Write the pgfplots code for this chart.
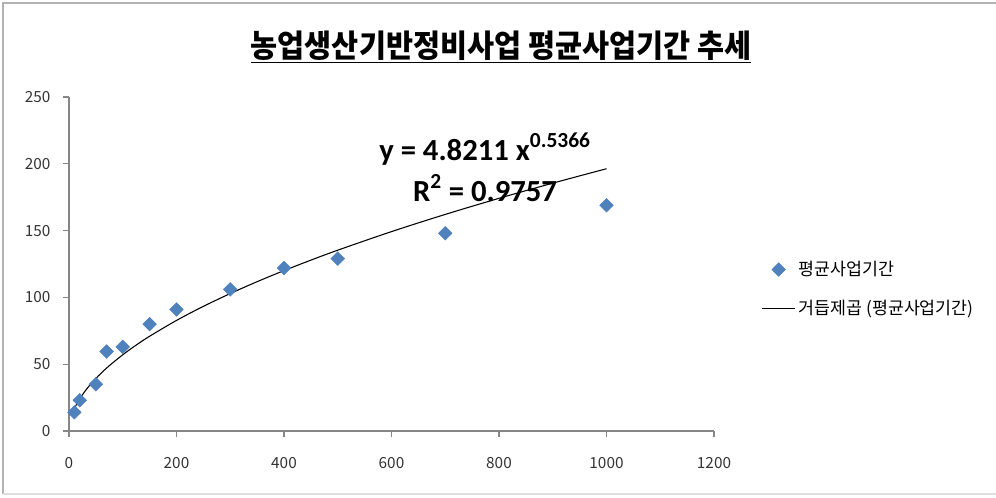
\documentclass[border=0pt]{standalone}
\usepackage{fontspec}
\setmainfont{Noto Sans CJK KR}
\newfontfamily\calfont{Carlito}
\usepackage{graphicx}
\usepackage{pgfplots}
\pgfplotsset{compat=1.18}
\definecolor{xlblue}{HTML}{4F81BD}
\definecolor{axgray}{HTML}{868686}
\pgfplotsset{
  legmark/.style={legend image code/.code={\draw[mark repeat=2, mark phase=2, ##1] plot coordinates {(0cm,0cm) (0.44cm,0cm) (0.88cm,0cm)};}},
  legline/.style={legend image code/.code={\draw[##1] (0cm,0cm) -- (0.88cm,0cm);}},
}
\begin{document}
\begin{tikzpicture}[x=0.75pt,y=0.75pt]
\useasboundingbox (-69,-66) rectangle (927,431);
\draw[gray!60, line width=1.2pt] (-66,-63) -- (-66,428) -- (927,428);
\draw[gray!25, line width=1pt] (-66,-63) -- (927,-63);
\begin{axis}[
  scale only axis, width=483.75pt, height=250.5pt,
  xmin=0, xmax=1200, ymin=0, ymax=250,
  xtick={0,200,...,1200}, ytick={0,50,...,250},
  axis x line*=bottom, axis y line*=left,
  axis line style={axgray, line width=0.8pt, -},
  tick style={axgray, line width=0.8pt},
  tick align=outside, major tick length=4.5pt,
  ticklabel style={font=\fontsize{11.5}{13}\selectfont, text=black!80},
  /pgf/number format/assume math mode=true,
  /pgf/number format/set thousands separator={},
  xticklabel style={yshift=-12pt},
  yticklabel style={xshift=-6pt},
  legend style={at={(1.067,0.425)}, anchor=west, draw=none, fill=none,
    font=\fontsize{13}{15}\selectfont, row sep=13pt},
  legend cell align=left,
]
\addplot[only marks, mark=square*, mark size=3.6pt, mark options={rotate=45, fill=xlblue, draw=xlblue}, legmark]
coordinates {(10,14) (20,23) (50,35) (70,59.5) (100,63) (150,80) (200,91) (300,106) (400,122) (500,129) (700,148) (1000,169)};
\addlegendentry{평균사업기간}
\addplot[black, line width=0.8pt, no marks, smooth, legline]
coordinates {(10,16.59) (15,20.62) (20,24.06) (30,29.91) (40,34.90) (50,39.34) (60,43.38) (75,48.90) (100,57.06) (125,64.32) (150,70.93) (200,82.77) (250,93.30) (300,102.88) (350,111.77) (400,120.07) (450,127.89) (500,135.34) (600,149.25) (700,162.12) (800,174.16) (900,185.52) (1000,196.31)};
\addlegendentry{거듭제곱 (평균사업기간)}
\end{axis}
\node[anchor=center, font=\bfseries\fontsize{22.5}{26}\selectfont] at (432,384) {\scalebox{0.98}[1.05]{\underline{농업생산기반정비사업 평균사업기간 추세}}};
\node[anchor=base, font=\calfont\bfseries\fontsize{23}{27}\selectfont] at (416,271) {y = 4.8211 x\textsuperscript{0.5366}};
\node[anchor=base, font=\calfont\bfseries\fontsize{23}{27}\selectfont] at (416,230) {R\textsuperscript{2} = 0.9757};
\end{tikzpicture}
\end{document}
